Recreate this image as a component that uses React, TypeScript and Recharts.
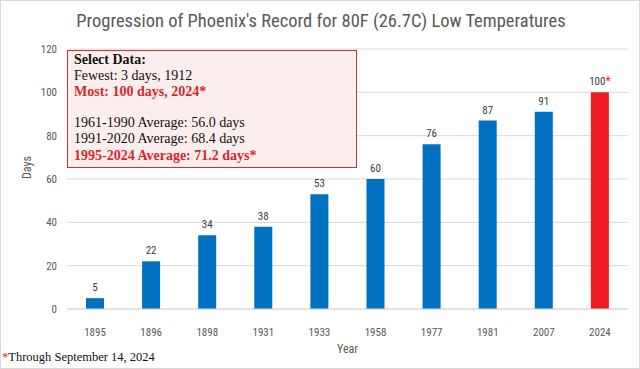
import { Bar, BarChart, CartesianGrid, Cell, LabelList, XAxis, YAxis } from "recharts";

const years = ["1895", "1896", "1898", "1931", "1933", "1958", "1977", "1981", "2007", "2024"];
const days = [5, 22, 34, 38, 53, 60, 76, 87, 91, 100];
const yTicks = [0, 20, 40, 60, 80, 100, 120];

const data = years.map((year, i) => ({ year, days: days[i] }));

const BLUE = "#0070C0";
const RED = "#ED1C24";
const TEXT_RED = "#D9262B";
const sans = "'Liberation Sans Narrow', 'Roboto Condensed', Roboto, Arial, sans-serif";
const serif = "'Liberation Serif', 'Times New Roman', serif";

const renderLabel = (props: any) => {
  const { x, y, width, value, index } = props;
  const cx = Number(x) + Number(width) / 2;
  const last = index === years.length - 1;
  return (
    <text x={cx} y={Number(y) - 7} textAnchor="middle" fill="#404040" fontSize={11} fontFamily={sans}>
      {value}
      {last && <tspan fill={RED} fontSize={12}>*</tspan>}
    </text>
  );
};

export default function App() {
  return (
    <div
      style={{
        position: "relative",
        width: 640,
        height: 369,
        boxSizing: "border-box",
        border: "1px solid #d9d9d9",
        background: "#fff",
        fontFamily: sans
      }}
    >
      <style>{`body{margin:0}`}</style>
      <div
        style={{
          position: "absolute",
          top: 9,
          left: 0,
          width: 640,
          textAlign: "center",
          fontSize: 18.5,
          color: "#595959"
        }}
      >
        Progression of Phoenix's Record for 80F (26.7C) Low Temperatures
      </div>
      <BarChart
        width={638}
        height={367}
        data={data}
        margin={{ top: 48, right: 11, bottom: 8, left: 16 }}
        style={{ position: "absolute", top: 0, left: 0 }}
      >
        <CartesianGrid vertical={false} stroke="#d9d9d9" />
        <XAxis
          dataKey="year"
          height={51}
          axisLine={{ stroke: "#d9d9d9" }}
          tickLine={false}
          tickMargin={13}
          tick={{ fill: "#595959", fontSize: 11, fontFamily: sans }}
          label={{ value: "Year", position: "insideBottom", offset: 7, fill: "#595959", fontSize: 12, fontFamily: sans }}
        />
        <YAxis
          domain={[0, 120]}
          ticks={yTicks}
          width={50}
          axisLine={false}
          tickLine={false}
          tickMargin={4}
          tick={{ fill: "#595959", fontSize: 11, fontFamily: sans }}
          label={{ value: "Days", angle: -90, position: "insideLeft", offset: 10, fill: "#595959", fontSize: 12, fontFamily: sans }}
        />
        <Bar dataKey="days" barSize={18} isAnimationActive={false}>
          {data.map((d, i) => (
            <Cell key={d.year} fill={i === data.length - 1 ? RED : BLUE} />
          ))}
          <LabelList dataKey="days" content={renderLabel} />
        </Bar>
      </BarChart>
      <div
        style={{
          position: "absolute",
          left: 66,
          top: 49,
          width: 290,
          height: 118,
          boxSizing: "border-box",
          border: "1px solid #C8313A",
          background: "#FDEEEE",
          fontFamily: serif,
          fontSize: 14,
          lineHeight: "16.2px",
          color: "#111",
          padding: "1px 6px"
        }}
      >
        <div style={{ fontWeight: "bold" }}>Select Data:</div>
        <div>Fewest: 3 days, 1912</div>
        <div style={{ color: TEXT_RED, fontWeight: "bold" }}>Most: 100 days, 2024*</div>
        <div style={{ height: 14.5 }} />
        <div>1961-1990 Average: 56.0 days</div>
        <div>1991-2020 Average: 68.4 days</div>
        <div style={{ color: TEXT_RED, fontWeight: "bold" }}>1995-2024 Average: 71.2 days*</div>
      </div>
      <div
        style={{
          position: "absolute",
          left: 1,
          top: 349,
          fontFamily: serif,
          fontSize: 12.5,
          color: "#111"
        }}
      >
        <span style={{ color: RED }}>*</span>Through September 14, 2024
      </div>
    </div>
  );
}
